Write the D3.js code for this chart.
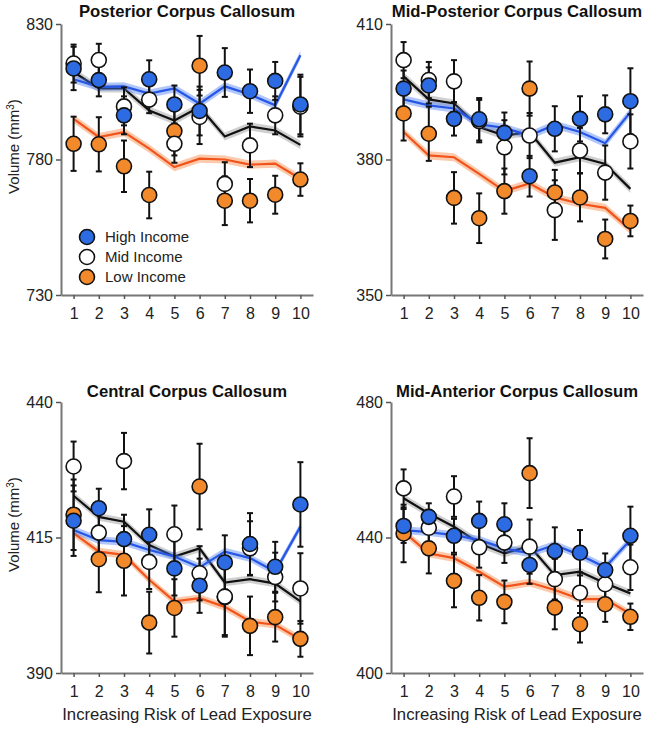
<!DOCTYPE html>
<html>
<head>
<meta charset="utf-8">
<script src="https://cdn.jsdelivr.net/npm/d3@7"></script>
<style>
  body { margin: 0; background: #fff; }
  svg { display: block; font-family: Arial, "Liberation Sans", sans-serif; }
</style>
</head>
<body>
<svg id="chart" width="660" height="733"></svg>
<script>
// ---------- DATA ----------
const riskLevels = [1, 2, 3, 4, 5, 6, 7, 8, 9, 10];
const panelTitles = ["Posterior Corpus Callosum", "Mid-Posterior Corpus Callosum",
                     "Central Corpus Callosum", "Mid-Anterior Corpus Callosum"];
const yTickValues = [[730, 780, 830], [350, 380, 410], [390, 415, 440], [400, 440, 480]];
const groupNames = ["High Income", "Mid Income", "Low Income"];
const xAxisLabel = "Increasing Risk of Lead Exposure";
const fitBandHalfWidth = [1.5, 0.9, 0.7, 1.15];

// Posterior
const postHigh     = [813.6, 809.3, 796.3, 809.6, 800.3, 797.9, 812.1, 805.2, 809.0, 800.3];
const postHighErr  = [8, 6, 7, 7, 7, 9, 9, 8, 7, 11];
const postMid      = [815.4, 816.7, 799.6, 802.1, 785.8, 795.7, 771.0, 785.2, 796.3, 799.5];
const postMidErr   = [7, 6, 7, 5, 7, 10, 8, 8, 7, 11];
const postLow      = [785.8, 785.6, 777.5, 766.9, 790.5, 814.6, 764.8, 764.8, 767.0, 772.6];
const postLowErr   = [10, 10, 9.5, 8.6, 9, 11, 9, 8, 7, 6];
const postHighFit  = [809.6, 806.8, 807.0, 804.3, 806.2, 800.6, 807.0, 804.0, 800.0, 818.5];
const postMidFit   = [812.3, 806.2, 806.2, 798.1, 794.4, 799.4, 788.5, 792.2, 790.7, 785.4];
const postLowFit   = [795.0, 788.3, 790.1, 784.0, 777.2, 780.3, 780.0, 778.1, 778.5, 772.9];

// Mid-Posterior
const midPostHigh    = [395.7, 396.4, 389.0, 388.9, 385.9, 376.3, 386.8, 389.0, 390.0, 392.9];
const midPostHighErr = [4, 4, 3.7, 4.7, 4.5, 4.5, 5, 5, 4.2, 7.3];
const midPostMid     = [402.0, 397.6, 397.3, 388.5, 382.7, 385.3, 368.8, 382.0, 377.1, 384.0];
const midPostMidErr  = [4, 4, 4.7, 4.7, 6, 5, 6.6, 5, 6, 6];
const midPostLow     = [390.2, 385.7, 371.5, 367.0, 373.0, 395.7, 372.7, 371.6, 362.4, 366.4];
const midPostLowErr  = [6, 6, 5.7, 5.5, 5, 6, 5, 5.3, 4.3, 3.4];
const midPostHighFit = [393.3, 392.0, 391.3, 387.8, 387.0, 385.3, 387.7, 386.1, 383.6, 390.5];
const midPostMidFit  = [398.4, 393.3, 392.4, 387.2, 385.3, 386.1, 379.3, 380.5, 379.0, 373.5];
const midPostLowFit  = [386.1, 380.9, 380.5, 376.8, 373.0, 374.7, 371.6, 370.2, 369.3, 364.4];

// Central
const centHigh    = [418.1, 420.4, 414.7, 415.5, 409.3, 406.1, 410.4, 413.8, 409.6, 421.1];
const centHighErr = [6.5, 3.6, 4.5, 4.7, 5, 5, 5, 5.7, 4.6, 7.8];
const centMid     = [428.1, 415.9, 429.1, 410.5, 415.6, 408.4, 404.1, 413.0, 407.7, 405.6];
const centMidErr  = [4.6, 5, 5.2, 5, 5.3, 5, 7.4, 5, 4.5, 6.5];
const centLow     = [419.2, 411.0, 410.7, 399.3, 402.0, 424.4, 404.0, 398.7, 400.3, 396.3];
const centLowErr  = [6.5, 6.1, 6.4, 5.7, 5.3, 7.9, 7, 5.4, 4.5, 3.3];
const centHighFit = [416.4, 414.5, 414.2, 412.7, 411.5, 409.5, 412.4, 411.2, 408.7, 417.0];
const centMidFit  = [422.7, 418.8, 417.9, 413.6, 411.5, 413.0, 406.7, 407.3, 406.5, 403.2];
const centLowFit  = [415.8, 412.4, 411.8, 407.2, 403.2, 403.8, 402.2, 399.5, 398.9, 396.2];

// Mid-Anterior
const midAntHigh    = [443.4, 446.1, 440.5, 444.9, 443.9, 431.9, 436.0, 435.5, 430.4, 440.5];
const midAntHighErr = [5, 4, 5, 5.7, 6.2, 5.6, 7, 6.7, 4.9, 8.6];
const midAntMid     = [454.5, 442.9, 452.1, 437.1, 438.5, 437.3, 427.7, 423.7, 426.2, 431.2];
const midAntMidErr  = [5.6, 5, 6, 6, 6, 8, 6, 6, 5, 6.7];
const midAntLow     = [441.2, 436.8, 427.2, 422.2, 421.0, 459.0, 419.3, 414.4, 420.3, 416.6];
const midAntLowErr  = [8.5, 7.4, 7.8, 6.7, 6.3, 10.3, 6.4, 5.4, 5.2, 3.9];
const midAntHighFit = [442.2, 441.6, 440.7, 439.3, 436.8, 435.3, 437.8, 434.8, 431.2, 439.3];
const midAntMidFit  = [451.6, 447.1, 443.2, 438.3, 435.3, 437.5, 428.9, 429.9, 426.5, 423.5];
const midAntLowFit  = [441.7, 435.3, 433.9, 429.9, 425.5, 426.7, 424.5, 421.8, 421.8, 417.4];

// ---------- STYLE ----------
const groupStyles = [
  { fill: "#2d6be3", line: "#2556e6", band: "rgba(70,120,240,0.42)" },
  { fill: "#ffffff", line: "#111111", band: "rgba(150,150,150,0.45)" },
  { fill: "#f28a2c", line: "#f2531a", band: "rgba(247,150,90,0.5)" }
];

const panels = [
  { values: [postHigh, postMid, postLow], errs: [postHighErr, postMidErr, postLowErr],
    fits: [postHighFit, postMidFit, postLowFit] },
  { values: [midPostHigh, midPostMid, midPostLow], errs: [midPostHighErr, midPostMidErr, midPostLowErr],
    fits: [midPostHighFit, midPostMidFit, midPostLowFit] },
  { values: [centHigh, centMid, centLow], errs: [centHighErr, centMidErr, centLowErr],
    fits: [centHighFit, centMidFit, centLowFit] },
  { values: [midAntHigh, midAntMid, midAntLow], errs: [midAntHighErr, midAntMidErr, midAntLowErr],
    fits: [midAntHighFit, midAntMidFit, midAntLowFit] }
];

const svg = d3.select("#chart");
const plotW = 252;
const rowsY = [[24, 295], [402, 673]];
const titleOffset = [7, 5];
const colsX = [61, 391];

panels.forEach((p, i) => {
  const col = i % 2, row = Math.floor(i / 2);
  const left = colsX[col], right = left + plotW;
  const top = rowsY[row][0], bottom = rowsY[row][1];
  const ticks = yTickValues[i];
  const x = d3.scaleLinear().domain([0.5, 10.5]).range([left, right]);
  const y = d3.scaleLinear().domain([ticks[0], ticks[2]]).range([bottom, top]);
  const g = svg.append("g");

  // axes
  const yAx = g.append("g").attr("transform", `translate(${left},0)`)
    .call(d3.axisLeft(y).tickValues(ticks).tickSize(5).tickSizeOuter(0).tickPadding(3));
  yAx.select(".domain").attr("stroke", "#777").attr("stroke-width", 2);
  yAx.selectAll(".tick line").attr("stroke", "#555").attr("stroke-width", 1.5);
  yAx.selectAll("text").attr("font-size", 16).attr("fill", "#222");

  const xAx = g.append("g").attr("transform", `translate(0,${bottom})`)
    .call(d3.axisBottom(x).tickValues(riskLevels).tickSize(4).tickSizeOuter(0).tickPadding(9));
  xAx.select(".domain").attr("stroke", "#777").attr("stroke-width", 2);
  xAx.selectAll(".tick line").attr("stroke", "#555").attr("stroke-width", 1.5);
  xAx.selectAll("text").attr("font-size", 16).attr("fill", "#222");

  // title
  g.append("text").attr("x", (left + right) / 2).attr("y", top - titleOffset[row])
    .attr("text-anchor", "middle").attr("font-size", 16.7).attr("font-weight", "bold")
    .attr("fill", "#111").text(panelTitles[i]);

  // y label
  if (col === 0) {
    const yl = g.append("text")
      .attr("transform", `translate(19,${(top + bottom) / 2 - 13}) rotate(-90)`)
      .attr("text-anchor", "middle").attr("font-size", 15).attr("fill", "#222");
    yl.append("tspan").text("Volume (mm");
    yl.append("tspan").attr("baseline-shift", "super").attr("font-size", 10).text("3");
    yl.append("tspan").text(")");
  }
  // x label
  if (row === 1) {
    g.append("text").attr("x", (left + right) / 2).attr("y", 720)
      .attr("text-anchor", "middle").attr("font-size", 16.7).attr("fill", "#222")
      .text(xAxisLabel);
  }

  // fit bands & lines
  const hw = fitBandHalfWidth[i];
  [2, 1, 0].forEach(k => {
    const fit = p.fits[k];
    const area = d3.area().x((d, j) => x(riskLevels[j]))
      .y0(d => y(d - hw)).y1(d => y(d + hw));
    g.append("path").datum(fit).attr("d", area).attr("fill", groupStyles[k].band);
    const line = d3.line().x((d, j) => x(riskLevels[j])).y(d => y(d));
    g.append("path").datum(fit).attr("d", line).attr("fill", "none")
      .attr("stroke", groupStyles[k].line).attr("stroke-width", 2.2);
  });

  // error bars
  [2, 1, 0].forEach(k => {
    p.values[k].forEach((v, j) => {
      const e = p.errs[k][j], cx = x(riskLevels[j]);
      g.append("line").attr("x1", cx).attr("x2", cx)
        .attr("y1", y(v - e)).attr("y2", y(v + e))
        .attr("stroke", "#111").attr("stroke-width", 2);
      [v - e, v + e].forEach(t => {
        g.append("line").attr("x1", cx - 3).attr("x2", cx + 3)
          .attr("y1", y(t)).attr("y2", y(t))
          .attr("stroke", "#111").attr("stroke-width", 2);
      });
    });
  });

  // points
  [2, 1, 0].forEach(k => {
    g.selectAll(null).data(p.values[k]).enter().append("circle")
      .attr("cx", (d, j) => x(riskLevels[j])).attr("cy", d => y(d)).attr("r", 7.5)
      .attr("fill", groupStyles[k].fill).attr("stroke", "#111").attr("stroke-width", 1.6);
  });

  // legend
  if (i === 0) {
    const lg = g.append("g");
    groupNames.forEach((name, k) => {
      const ly = 237 + k * 20;
      lg.append("circle").attr("cx", 87).attr("cy", ly).attr("r", 7.5)
        .attr("fill", groupStyles[k].fill).attr("stroke", "#111").attr("stroke-width", 1.6);
      lg.append("text").attr("x", 105).attr("y", ly + 5).attr("font-size", 15)
        .attr("fill", "#222").text(name);
    });
  }
});
</script>
</body>
</html>
